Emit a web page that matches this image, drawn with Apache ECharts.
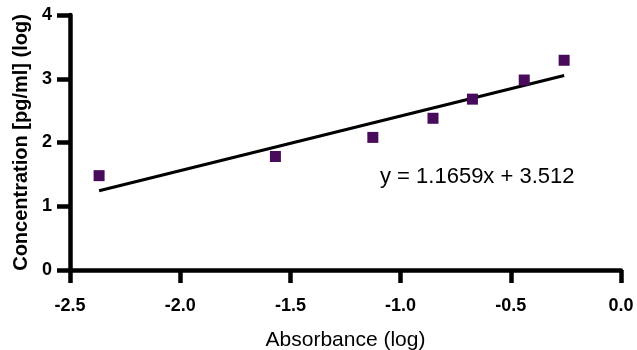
<!DOCTYPE html>
<html>
<head>
<meta charset="utf-8">
<script src="https://cdn.jsdelivr.net/npm/echarts@6/dist/echarts.min.js"></script>
<style>
  html, body { margin: 0; padding: 0; background: #fff; }
  #main { width: 637px; height: 350px; }
</style>
</head>
<body>
<div id="main"></div>
<script>
// measured points (log absorbance, log concentration)
const absorbance = [-2.368, -1.568, -1.126, -0.853, -0.674, -0.439, -0.258]
const concentration = [1.48, 1.78, 2.08, 2.38, 2.68, 2.98, 3.29]
// fitted line as drawn in the figure (end points)
const fitX = [-2.368, -0.258]
const fitY = [1.244, 3.05]
const equation = 'y = 1.1659x + 3.512'

const font = "'Liberation Sans', Arial, sans-serif"

let myChart = echarts.init(document.getElementById('main'))

const axisCommon = {
    axisLine: { show: true, onZero: false, lineStyle: { color: '#000', width: 4.5 } },
    axisTick: { show: true, length: 13, lineStyle: { color: '#000', width: 4.5 } },
    splitLine: { show: false },
    axisLabel: { color: '#000', fontWeight: 'bold', fontSize: 18, fontFamily: font }
}

var option = {
    animation: false,
    grid: { left: 70, right: 16, top: 15, bottom: 80, outerBoundsMode: 'none' },
    xAxis: Object.assign({}, axisCommon, {
        type: 'value',
        min: -2.5,
        max: 0,
        interval: 0.5,
        name: 'Absorbance (log)',
        nameLocation: 'middle',
        nameGap: 60,
        nameTextStyle: { color: '#000', fontSize: 21, fontFamily: font },
        axisLabel: Object.assign({}, axisCommon.axisLabel, {
            margin: 27,
            formatter: v => v.toFixed(1)
        })
    }),
    yAxis: Object.assign({}, axisCommon, {
        type: 'value',
        min: 0,
        max: 4,
        interval: 1,
        name: 'Concentration [pg/ml] (log)',
        nameLocation: 'middle',
        nameGap: 37,
        nameTextStyle: { color: '#000', fontSize: 20, fontWeight: 'bold', fontFamily: font },
        axisLabel: Object.assign({}, axisCommon.axisLabel, { margin: 18 })
    }),
    graphic: [{
        type: 'text',
        left: 380,
        top: 166,
        style: { text: equation, fill: '#000', fontSize: 22, fontFamily: font }
    }],
    series: [
        {
            type: 'line',
            data: fitX.map((x, i) => [x, fitY[i]]),
            showSymbol: false,
            lineStyle: { color: '#000', width: 3 },
            z: 2
        },
        {
            type: 'scatter',
            data: absorbance.map((x, i) => [x, concentration[i]]),
            symbol: 'rect',
            symbolSize: 11,
            itemStyle: { color: '#480b5c', opacity: 1 },
            z: 3
        }
    ]
};
myChart.setOption(option);
</script>
</body>
</html>
